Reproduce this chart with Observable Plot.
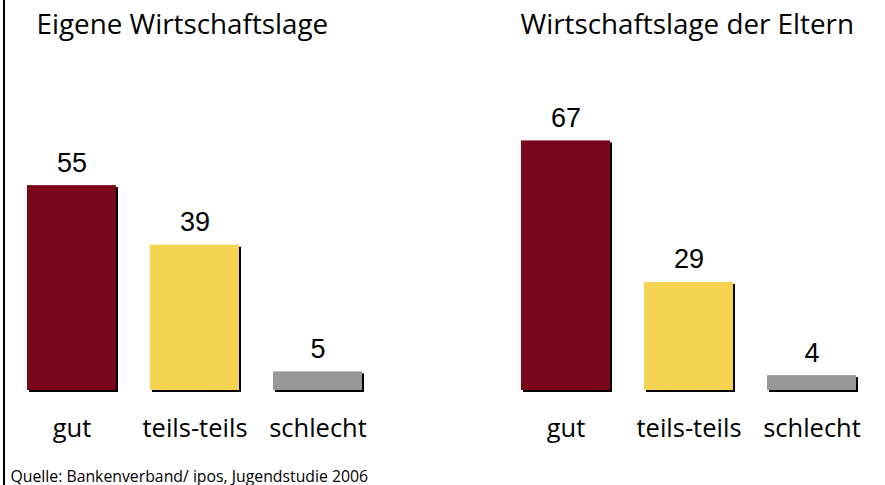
<!DOCTYPE html>
<html>
<head>
<meta charset="utf-8">
<script src="https://cdn.jsdelivr.net/npm/d3@7"></script>
<script src="https://cdn.jsdelivr.net/npm/@observablehq/plot@0.6"></script>
<style>
  html, body { margin: 0; padding: 0; background: #fff; }
  #wrap { position: relative; width: 885px; height: 485px; overflow: hidden; }
  #border { position: absolute; left: 3px; top: 0; width: 2px; height: 485px; background: #000; }
  #chart { position: absolute; left: 0; top: 0; }
</style>
</head>
<body>
<div id="wrap"><div id="chart"></div><div id="border"></div></div>
<script>
const panels = ["Eigene Wirtschaftslage", "Wirtschaftslage der Eltern"];
const categories = ["gut", "teils-teils", "schlecht"];
const eigene = [55, 39, 5];
const eltern = [67, 29, 4];
const colors = ["#7a0719", "#f4d350", "#979797"];
const caption = "Quelle: Bankenverband/ ipos, Jugendstudie 2006";

const rows = [];
[eigene, eltern].forEach((vals, p) => {
  vals.forEach((v, i) => rows.push({panel: panels[p], cat: categories[i], value: v}));
});

const font = "'Open Sans', 'Noto Sans', sans-serif";
const numFont = "'Liberation Sans', Arial, sans-serif";

const plot = Plot.plot({
  width: 885,
  height: 485,
  marginLeft: 26,
  marginRight: 28,
  marginTop: 92,
  marginBottom: 95,
  style: {fontFamily: font, background: "white", overflow: "visible"},
  fx: {domain: panels, paddingInner: 0.321, paddingOuter: 0, axis: null},
  x: {domain: categories, paddingInner: 0.28, paddingOuter: 0},
  y: {domain: [0, 80], axis: null},
  color: {domain: categories, range: colors},
  marks: [
    Plot.barY(rows, {fx: "panel", x: "cat", y: "value", fill: "black", dx: 2, dy: 2}),
    Plot.barY(rows, {fx: "panel", x: "cat", y: "value", fill: "cat"}),
    Plot.text(rows, {fx: "panel", x: "cat", y: "value", text: d => String(d.value),
      lineAnchor: "bottom", dy: -14, fontSize: 27, fontFamily: numFont, fill: "black"}),
    Plot.axisX({tickSize: 0, tickPadding: 28, fontSize: 25.5, fill: "black", label: null}),
    Plot.text([{panel: panels[0], t: panels[0]}], {fx: "panel", text: "t", frameAnchor: "top-left",
      textAnchor: "start", lineAnchor: "bottom", dx: 9, dy: -59, fontSize: 27.8, fill: "black"}),
    Plot.text([{panel: panels[1], t: panels[1]}], {fx: "panel", text: "t", frameAnchor: "top-left",
      textAnchor: "start", lineAnchor: "bottom", dx: -1, dy: -59, fontSize: 27.8, fill: "black"}),
    Plot.text([{panel: panels[0], t: caption}], {fx: "panel", text: "t", frameAnchor: "bottom-left",
      textAnchor: "start", lineAnchor: "bottom", dx: -17, dy: 91, fontSize: 15.8, fill: "black"})
  ]
});
document.getElementById("chart").appendChild(plot);
</script>
</body>
</html>
